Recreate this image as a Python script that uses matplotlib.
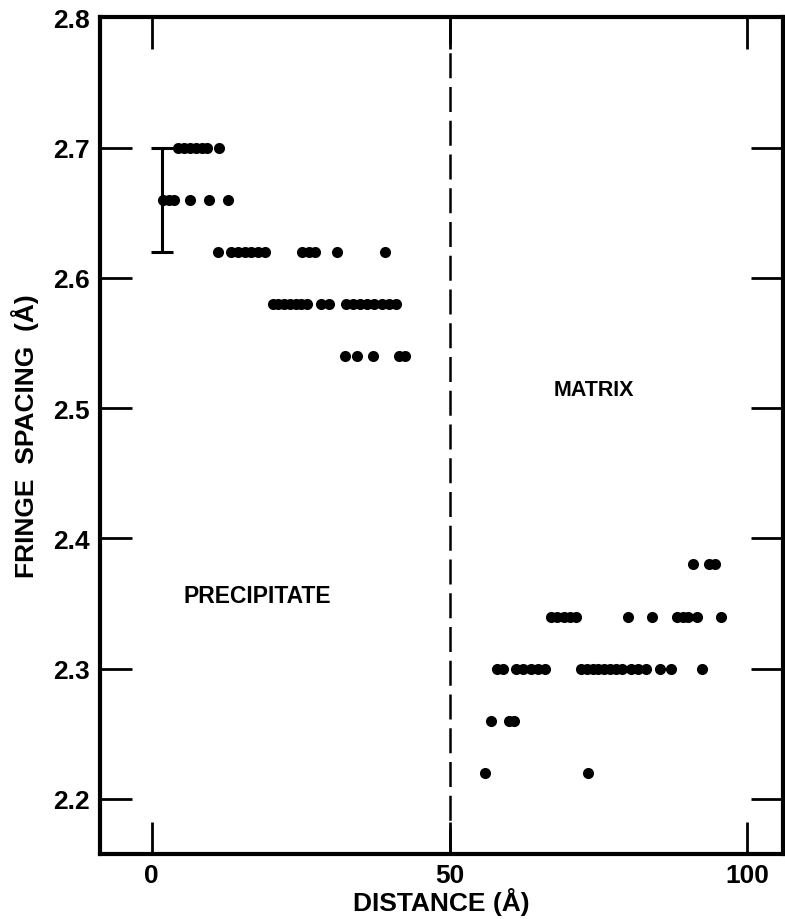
import matplotlib.pyplot as plt

plt.rcParams['font.family'] = ['Liberation Sans', 'DejaVu Sans']
plt.rcParams['font.weight'] = 'bold'

# fringe spacing levels (Å) and the distances (Å) of the points on each level
prec_levels = [2.70, 2.66, 2.62, 2.58, 2.54]
prec_x = [
    [4.5, 5.5, 6.5, 7.5, 8.5, 9.3, 11.3],
    [2.0, 2.9, 3.8, 6.5, 9.7, 12.9],
    [11.2, 13.4, 14.5, 15.6, 16.7, 17.8, 19.0, 25.2, 26.4, 27.5, 31.2, 39.1],
    [20.3, 21.3, 22.3, 23.3, 24.3, 25.1, 26.1, 28.4, 29.8, 32.6, 33.8, 35.0,
     36.2, 37.4, 38.6, 39.8, 41.0],
    [32.5, 34.4, 37.1, 41.6, 42.6],
]
mat_levels = [2.38, 2.34, 2.30, 2.26, 2.22]
mat_x = [
    [90.9, 93.6, 94.6],
    [67.0, 68.1, 69.2, 70.3, 71.3, 80.0, 83.9, 88.1, 89.1, 90.1, 91.6, 95.5],
    [57.9, 58.9, 61.2, 62.4, 63.6, 64.8, 66.0, 72.0, 73.0, 74.0, 75.0, 76.0,
     77.0, 78.0, 79.0, 80.5, 81.6, 82.9, 85.4, 87.2, 92.4],
    [57.0, 59.9, 60.8],
    [56.0, 73.3],
]
# error bar on the precipitate spacing
err_x, err_y, err_d = 1.8, 2.66, 0.04
boundary = 50

xticks = [0, 50, 100]
yticks = [2.2, 2.3, 2.4, 2.5, 2.6, 2.7, 2.8]

fig = plt.figure(figsize=(7.85, 9.2), dpi=100)
ax = fig.add_axes([0.127, 0.071, 0.870, 0.909])

for lev, xs in zip(prec_levels + mat_levels, prec_x + mat_x):
    ax.plot(xs, [lev] * len(xs), 'o', color='black', markersize=8,
            markeredgewidth=0)

ax.errorbar(err_x, err_y, yerr=err_d, color='black', lw=2.2,
            capsize=8, capthick=2.2)
ax.axvline(boundary, color='black', lw=1.8, linestyle=(0, (10, 3.5)))

ax.text(17.8, 2.356, 'PRECIPITATE', fontsize=16.5, fontweight='bold',
        ha='center', va='center')
ax.text(74.3, 2.514, 'MATRIX', fontsize=15.5, fontweight='bold',
        ha='center', va='center')

ax.set_xlim(-8.7, 105.9)
ax.set_ylim(2.158, 2.8)
ax.set_xticks(xticks)
ax.set_xticklabels([str(t) for t in xticks])
ax.set_yticks(yticks)
ax.set_yticklabels(['%.1f' % t for t in yticks])

for sp in ax.spines.values():
    sp.set_linewidth(3)
ax.tick_params(direction='in', length=23, width=2, top=True, right=True,
               labelsize=19, pad=7)

ax.set_xlabel('DISTANCE (Å)', fontsize=19, fontweight='bold', labelpad=0)
ax.set_ylabel('FRINGE  SPACING  (Å)', fontsize=19, fontweight='bold',
              labelpad=10)

plt.savefig('out.png', dpi=100)
